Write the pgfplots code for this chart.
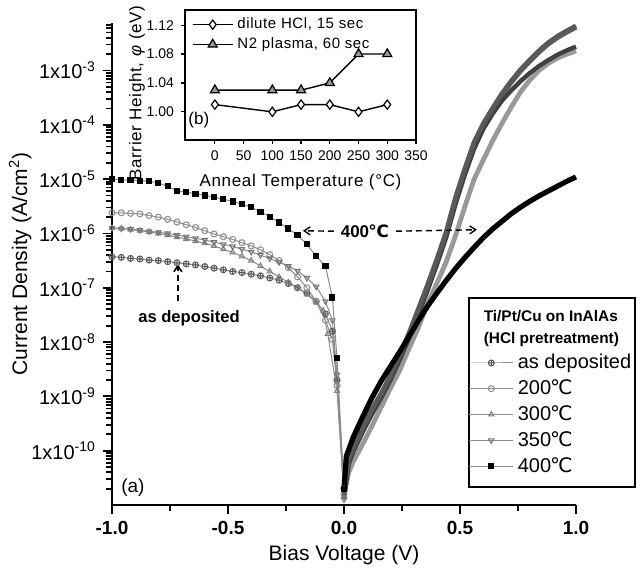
\documentclass[border=0pt]{standalone}
\usepackage{fontspec}
\setmainfont{Liberation Sans}
\newfontfamily\dejavu{DejaVu Sans}
\newfontfamily\insetfont{Liberation Sans}[LetterSpace=4]
\usepackage{pgfplots}
\pgfplotsset{compat=1.18}
\usepackage{pgfplotstable}
\usetikzlibrary{arrows.meta}
\newcommand{\dC}{{\dejavu\kern-0.05em ℃}}

% current density as log10(J)
\pgfplotstableread{
x ly
-1.00 -6.43
-0.96 -6.44
-0.92 -6.46
-0.88 -6.47
-0.84 -6.49
-0.80 -6.50
-0.76 -6.52
-0.72 -6.54
-0.68 -6.56
-0.64 -6.58
-0.60 -6.61
-0.56 -6.64
-0.52 -6.67
-0.48 -6.70
-0.44 -6.72
-0.40 -6.75
-0.36 -6.78
-0.32 -6.82
-0.28 -6.86
-0.24 -6.92
-0.20 -7.00
-0.16 -7.10
-0.12 -7.25
-0.08 -7.48
-0.05 -7.80
-0.03 -8.70
0.00 -10.70
0.02 -10.15
0.04 -9.95
0.08 -9.58
0.12 -9.24
0.16 -8.95
0.20 -8.62
0.24 -8.24
0.28 -7.84
0.32 -7.40
0.36 -6.95
0.40 -6.48
0.44 -5.98
0.48 -5.35
0.52 -4.82
0.56 -4.33
0.60 -3.98
0.64 -3.70
0.68 -3.43
0.72 -3.20
0.76 -2.99
0.80 -2.81
0.84 -2.64
0.88 -2.49
0.92 -2.37
0.96 -2.27
1.00 -2.18
}\tdep

\pgfplotstableread{
x ly
-1.00 -5.62
-0.96 -5.62
-0.92 -5.63
-0.88 -5.64
-0.84 -5.67
-0.80 -5.70
-0.76 -5.74
-0.72 -5.79
-0.68 -5.84
-0.64 -5.89
-0.60 -5.95
-0.56 -6.01
-0.52 -6.06
-0.48 -6.11
-0.44 -6.17
-0.40 -6.23
-0.36 -6.30
-0.32 -6.39
-0.28 -6.50
-0.24 -6.63
-0.20 -6.80
-0.16 -7.00
-0.12 -7.25
-0.08 -7.60
-0.05 -7.95
-0.03 -8.80
0.00 -10.80
0.02 -10.40
0.04 -10.20
0.08 -9.88
0.12 -9.55
0.16 -9.20
0.20 -8.85
0.24 -8.52
0.28 -8.12
0.32 -7.74
0.36 -7.29
0.40 -6.92
0.44 -6.53
0.48 -6.05
0.52 -5.52
0.56 -5.01
0.60 -4.65
0.64 -4.30
0.68 -3.98
0.72 -3.68
0.76 -3.40
0.80 -3.18
0.84 -3.00
0.88 -2.87
0.92 -2.77
0.96 -2.70
1.00 -2.64
}\ttwo

\pgfplotstableread{
x ly
-1.00 -5.90
-0.96 -5.91
-0.92 -5.93
-0.88 -5.95
-0.84 -5.97
-0.80 -6.00
-0.76 -6.03
-0.72 -6.07
-0.68 -6.10
-0.64 -6.14
-0.60 -6.18
-0.56 -6.23
-0.52 -6.29
-0.48 -6.35
-0.44 -6.42
-0.40 -6.50
-0.36 -6.60
-0.32 -6.70
-0.28 -6.80
-0.24 -6.90
-0.20 -7.00
-0.16 -7.12
-0.12 -7.27
-0.09 -7.42
-0.07 -7.85
-0.03 -8.90
0.00 -10.85
0.02 -10.20
0.04 -9.98
0.08 -9.62
0.12 -9.28
0.16 -8.99
0.20 -8.66
0.24 -8.28
0.28 -7.88
0.32 -7.44
0.36 -6.99
0.40 -6.52
0.44 -6.02
0.48 -5.40
0.52 -4.86
0.56 -4.37
0.60 -4.02
0.64 -3.73
0.68 -3.46
0.72 -3.23
0.76 -3.02
0.80 -2.84
0.84 -2.67
0.88 -2.52
0.92 -2.40
0.96 -2.30
1.00 -2.21
}\tthree

\pgfplotstableread{
x ly
-1.00 -5.90
-0.96 -5.91
-0.92 -5.92
-0.88 -5.94
-0.84 -5.96
-0.80 -5.98
-0.76 -6.00
-0.72 -6.03
-0.68 -6.06
-0.64 -6.09
-0.60 -6.12
-0.56 -6.16
-0.52 -6.20
-0.48 -6.24
-0.44 -6.29
-0.40 -6.34
-0.36 -6.40
-0.32 -6.46
-0.28 -6.53
-0.24 -6.60
-0.20 -6.69
-0.16 -6.82
-0.12 -6.98
-0.08 -7.25
-0.05 -7.60
-0.03 -8.60
0.00 -10.90
0.02 -10.25
0.04 -10.02
0.08 -9.66
0.12 -9.33
0.16 -9.03
0.20 -8.70
0.24 -8.33
0.28 -7.93
0.32 -7.50
0.36 -7.05
0.40 -6.58
0.44 -6.08
0.48 -5.47
0.52 -4.93
0.56 -4.45
0.60 -4.08
0.64 -3.80
0.68 -3.56
0.72 -3.37
0.76 -3.20
0.80 -3.05
0.84 -2.92
0.88 -2.81
0.92 -2.71
0.96 -2.63
1.00 -2.56
}\tthreefifty

\pgfplotstableread{
x ly
-1.00 -5.00
-0.96 -5.01
-0.92 -5.02
-0.88 -5.03
-0.84 -5.04
-0.80 -5.07
-0.76 -5.13
-0.72 -5.22
-0.68 -5.24
-0.64 -5.27
-0.60 -5.30
-0.56 -5.33
-0.52 -5.37
-0.48 -5.41
-0.44 -5.46
-0.40 -5.52
-0.36 -5.60
-0.32 -5.69
-0.28 -5.80
-0.24 -5.91
-0.20 -6.03
-0.16 -6.20
-0.12 -6.42
-0.08 -6.60
-0.05 -7.18
-0.03 -8.30
0.00 -10.70
0.01 -10.10
0.04 -9.75
0.08 -9.38
0.12 -9.03
0.16 -8.72
0.20 -8.45
0.24 -8.18
0.28 -7.90
0.32 -7.61
0.36 -7.34
0.40 -7.10
0.44 -6.87
0.48 -6.65
0.52 -6.45
0.56 -6.26
0.60 -6.08
0.64 -5.92
0.68 -5.78
0.72 -5.64
0.76 -5.52
0.80 -5.41
0.84 -5.31
0.88 -5.22
0.92 -5.13
0.96 -5.04
1.00 -4.96
}\tfour

\pgfplotsset{
  neg/.style={restrict x to domain=-1:0, line width=0.5pt, mark size=1.5pt},
  pos/.style={restrict x to domain=0:1, forget plot, no marks},
}

\begin{document}
\begin{tikzpicture}
\useasboundingbox (-56pt,-33pt) rectangle (265pt,252.5pt);
\begin{axis}[
  scale only axis, width=232pt, height=241pt, clip=false,
  xmin=-1, xmax=1, ymode=log, ymin=1e-11, ymax=7.5e-3,
  axis x line*=bottom, axis y line*=left,
  axis line style={line width=1.3pt},
  tick align=outside, major tick length=4.5pt,
  every tick/.style={black, line width=0.9pt},
  xtick={-1,-0.5,0,0.5,1},
  xticklabels={\textbf{-1.0},\textbf{-0.5},\textbf{0.0},\textbf{0.5},\textbf{1.0}},
  ytick={1e-10,1e-9,1e-8,1e-7,1e-6,1e-5,1e-4,1e-3},
  yticklabels={1x10\textsuperscript{-10},1x10\textsuperscript{-9},1x10\textsuperscript{-8},1x10\textsuperscript{-7},1x10\textsuperscript{-6},1x10\textsuperscript{-5},1x10\textsuperscript{-4},1x10\textsuperscript{-3}},
  x tick label style={font=\fontsize{9.5}{11}\selectfont},
  y tick label style={font=\fontsize{10}{12}\selectfont},
  xlabel={Bias Voltage (V)},
  ylabel={Current Density (A/cm\textsuperscript{2})},
  label style={font=\fontsize{10.5}{12}\selectfont},
  xlabel style={at={(axis description cs:0.5,-0.104)}, anchor=center},
  ylabel style={at={(axis description cs:-0.198,0.5)}, anchor=center},
  legend image code/.code={\draw[mark repeat=2,mark phase=2,#1] plot coordinates {(0pt,0pt) (11pt,0pt) (22pt,0pt)};},
  legend style={at={(0.767,0.4315)}, anchor=north west, draw=black, line width=0.9pt,
    inner xsep=0pt, inner ysep=4pt, font=\fontsize{10}{12}\selectfont,
    cells={anchor=west}, row sep=0pt},
  legend entries={{\hspace*{-17pt}\fontsize{7.7}{9}\selectfont\bfseries Ti/Pt/Cu on InAlAs},
    {\hspace*{-17pt}\fontsize{7.7}{9}\selectfont\bfseries (HCl pretreatment)},
    as deposited, 200\dC, 300\dC, 350\dC, 400\dC},
]
\addlegendimage{empty legend}
\addlegendimage{empty legend}
% reverse bias side, with marks
\addplot[neg, black!45, mark=oplus, mark options={black!65, line width=0.5pt}]
  table[x=x, y expr={10^(\thisrow{ly})}] {\tdep};
\addplot[neg, black!45, mark=o, mark options={black!45, line width=0.5pt}]
  table[x=x, y expr={10^(\thisrow{ly})}] {\ttwo};
\addplot[neg, black!45, mark=triangle, mark options={black!50, line width=0.5pt}]
  table[x=x, y expr={10^(\thisrow{ly})}] {\tthree};
\addplot[neg, black!45, mark=triangle, mark options={black!55, line width=0.5pt, rotate=180}]
  table[x=x, y expr={10^(\thisrow{ly})}] {\tthreefifty};
\addplot[neg, black!45, mark=square*, mark size=1.3pt, mark options={black, fill=black}]
  table[x=x, y expr={10^(\thisrow{ly})}] {\tfour};
% forward bias side, dense data drawn as bands
\addplot[pos, black!40, line width=2.4pt] table[x=x, y expr={10^(\thisrow{ly})}] {\ttwo};
\addplot[pos, black!60, line width=2.2pt] table[x=x, y expr={10^(\thisrow{ly})}] {\tthree};
\addplot[pos, black!75, line width=2.2pt] table[x=x, y expr={10^(\thisrow{ly})}] {\tthreefifty};
\addplot[pos, black!65, line width=2.4pt] table[x=x, y expr={10^(\thisrow{ly})}] {\tdep};
\addplot[pos, black, line width=2.6pt] table[x=x, y expr={10^(\thisrow{ly})}] {\tfour};

% tick marks on the frame
\pgfplotsinvokeforeach{-11,-10,...,-4}{
  \draw[line width=0.9pt] ([xshift=-2.8pt]axis cs:-1,2e#1) -- (axis cs:-1,2e#1);
  \draw[line width=0.9pt] ([xshift=-2.8pt]axis cs:-1,3e#1) -- (axis cs:-1,3e#1);
  \draw[line width=0.9pt] ([xshift=-2.8pt]axis cs:-1,4e#1) -- (axis cs:-1,4e#1);
  \draw[line width=0.9pt] ([xshift=-2.8pt]axis cs:-1,5e#1) -- (axis cs:-1,5e#1);
  \draw[line width=0.9pt] ([xshift=-2.8pt]axis cs:-1,6e#1) -- (axis cs:-1,6e#1);
  \draw[line width=0.9pt] ([xshift=-2.8pt]axis cs:-1,7e#1) -- (axis cs:-1,7e#1);
  \draw[line width=0.9pt] ([xshift=-2.8pt]axis cs:-1,8e#1) -- (axis cs:-1,8e#1);
  \draw[line width=0.9pt] ([xshift=-2.8pt]axis cs:-1,9e#1) -- (axis cs:-1,9e#1);
}
\pgfplotsinvokeforeach{2,...,7}{
  \draw[line width=0.9pt] ([xshift=-2.8pt]axis cs:-1,#1e-3) -- (axis cs:-1,#1e-3);
}
\pgfplotsinvokeforeach{-10,...,-3}{
  \draw[line width=0.9pt] ([xshift=-4.5pt]axis cs:-1,1e#1) -- (axis cs:-1,1e#1);
}
\pgfplotsinvokeforeach{-0.75,-0.25,0.25,0.75}{
  \draw[line width=0.9pt] ([yshift=-2.8pt]axis cs:#1,1e-11) -- (axis cs:#1,1e-11);
}
\pgfplotsinvokeforeach{-1,-0.5,0,0.5,1}{
  \draw[line width=0.9pt] ([yshift=-4.5pt]axis cs:#1,1e-11) -- (axis cs:#1,1e-11);
}

\node[font=\fontsize{8.5}{10}\selectfont\bfseries] (t400) at (axis cs:0.09,1.1e-6) {400\dC};
\draw[dash pattern=on 3pt off 2pt, line width=0.7pt, -{Straight Barb[length=3pt,width=4pt]}]
  (t400.west) -- (axis cs:-0.177,1.12e-6);
\draw[dash pattern=on 3pt off 2pt, line width=0.7pt, -{Straight Barb[length=3pt,width=4pt]}]
  (t400.east) -- (axis cs:0.573,1.17e-6);
\node[font=\fontsize{8.3}{10}\selectfont\bfseries] at (axis cs:-0.668,2.7e-8) {as deposited};
\draw[dash pattern=on 3pt off 2pt, line width=0.8pt, -{Straight Barb[length=3pt,width=4pt]}]
  (axis cs:-0.716,5.6e-8) -- (axis cs:-0.716,2.7e-7);
\node[font=\fontsize{9.5}{11}\selectfont] at (rel axis cs:0.045,0.037) {(a)};
\end{axis}

% inset (b)
\begin{axis}[
  at={(36.5pt,247.5pt)}, anchor=north west,
  scale only axis, width=115.5pt, height=65pt,
  xmin=-52, xmax=350, ymin=0.961, ymax=1.141,
  axis line style={line width=0.8pt},
  tick align=outside, major tick length=2pt,
  every tick/.style={black, line width=0.6pt},
  xtick={0,50,...,350}, xtick pos=bottom, ytick pos=left,
  xticklabels={0,50,100,150,200,250,300,350},
  ytick={1.00,1.04,1.08,1.12}, yticklabels={1.00,1.04,1.08,1.12},
  tick label style={font=\fontsize{7}{8}\selectfont},
  x tick label style={inner xsep=0pt},
  xlabel={Anneal Temperature (°C)},
  ylabel={Barrier Height, \textit{φ} (eV)},
  label style={font=\insetfont\fontsize{8.5}{10}\selectfont},
  xlabel style={at={(axis description cs:0.5,-0.323)}, anchor=center},
  ylabel style={at={(axis description cs:-0.208,0.36)}, anchor=center},
  legend style={at={(0.02,0.99)}, anchor=north west, draw=none, fill=none,
    font=\insetfont\fontsize{7.5}{8.5}\selectfont, inner sep=1pt, row sep=-1pt, cells={anchor=west}},
  legend image code/.code={\draw[mark repeat=2,mark phase=2,#1] plot coordinates {(0pt,0pt) (10pt,0pt) (20pt,0pt)};},
]
\addplot[black, line width=0.7pt, mark=diamond*, mark size=2.3pt, mark options={fill=white, line width=0.6pt}]
  coordinates {(0,1.01) (100,1.00) (150,1.01) (200,1.01) (250,1.00) (300,1.01)};
\addlegendentry{dilute HCl, 15 sec}
\addplot[black, line width=0.7pt, mark=triangle*, mark size=2.6pt, mark options={fill=black!40, line width=0.6pt}]
  coordinates {(0,1.03) (100,1.03) (150,1.03) (200,1.04) (250,1.08) (300,1.08)};
\addlegendentry{N2 plasma, 60 sec}
\node[font=\fontsize{8.5}{10}\selectfont] at (rel axis cs:0.06,0.15) {(b)};
\end{axis}
\end{tikzpicture}
\end{document}
